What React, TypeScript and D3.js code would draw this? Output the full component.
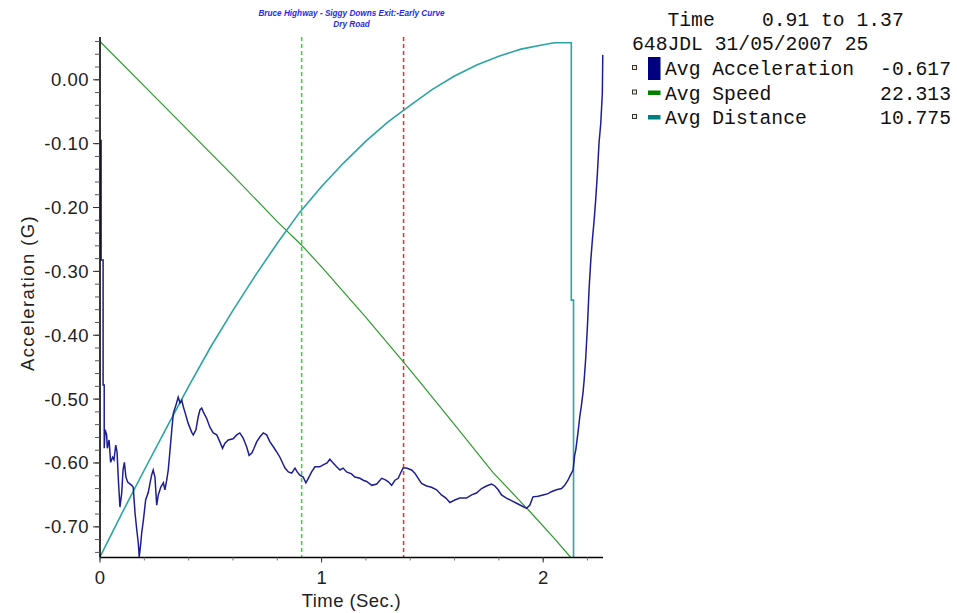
import * as React from 'react'
import * as d3 from 'd3'

// chart values
const titleLines = ['Bruce Highway - Siggy Downs Exit:-Early Curve', 'Dry Road']
const cursorTimes = [0.91, 1.37]

const accelPoints: [number, number][] = [
  [0.005, -0.094], [0.005, -0.282], [0.014, -0.282], [0.014, -0.478], [0.019, -0.478], [0.019, -0.577],
  [0.023, -0.548], [0.03, -0.556], [0.033, -0.577], [0.041, -0.564], [0.048, -0.599], [0.057, -0.591],
  [0.063, -0.595], [0.071, -0.572], [0.077, -0.583], [0.083, -0.627], [0.09, -0.669], [0.098, -0.647],
  [0.104, -0.611], [0.11, -0.599], [0.117, -0.622], [0.125, -0.63], [0.143, -0.635], [0.15, -0.638],
  [0.158, -0.678], [0.166, -0.705], [0.173, -0.726], [0.177, -0.747], [0.184, -0.726], [0.188, -0.71],
  [0.196, -0.689], [0.206, -0.658], [0.218, -0.646], [0.226, -0.631], [0.233, -0.619], [0.24, -0.611],
  [0.248, -0.622], [0.256, -0.666], [0.263, -0.65], [0.274, -0.638], [0.286, -0.631], [0.293, -0.642],
  [0.301, -0.627], [0.308, -0.611], [0.316, -0.58], [0.325, -0.544], [0.331, -0.522], [0.343, -0.509],
  [0.353, -0.497], [0.361, -0.506], [0.369, -0.502], [0.376, -0.512], [0.383, -0.52], [0.398, -0.538],
  [0.414, -0.552], [0.421, -0.556], [0.433, -0.548], [0.443, -0.528], [0.451, -0.517], [0.459, -0.514],
  [0.466, -0.52], [0.481, -0.53], [0.496, -0.544], [0.511, -0.553], [0.527, -0.556], [0.541, -0.567],
  [0.553, -0.577], [0.564, -0.569], [0.579, -0.564], [0.601, -0.562], [0.617, -0.556], [0.631, -0.553],
  [0.646, -0.561], [0.662, -0.575], [0.673, -0.588], [0.686, -0.584], [0.695, -0.577], [0.707, -0.567],
  [0.722, -0.559], [0.737, -0.553], [0.752, -0.556], [0.767, -0.567], [0.783, -0.575], [0.798, -0.583],
  [0.812, -0.591], [0.824, -0.6], [0.835, -0.608], [0.85, -0.614], [0.865, -0.616], [0.88, -0.608],
  [0.89, -0.614], [0.902, -0.619], [0.917, -0.622], [0.929, -0.631], [0.94, -0.624], [0.955, -0.614],
  [0.97, -0.606], [0.992, -0.606], [1.007, -0.603], [1.025, -0.6], [1.037, -0.594], [1.052, -0.6],
  [1.068, -0.606], [1.083, -0.611], [1.097, -0.608], [1.113, -0.614], [1.135, -0.617], [1.15, -0.622],
  [1.173, -0.624], [1.188, -0.627], [1.203, -0.629], [1.227, -0.635], [1.249, -0.633], [1.271, -0.624],
  [1.286, -0.626], [1.3, -0.629], [1.316, -0.635], [1.331, -0.627], [1.346, -0.624], [1.356, -0.616],
  [1.368, -0.608], [1.383, -0.608], [1.406, -0.611], [1.421, -0.616], [1.436, -0.624], [1.451, -0.632],
  [1.474, -0.636], [1.496, -0.638], [1.519, -0.642], [1.541, -0.65], [1.561, -0.655], [1.579, -0.662],
  [1.601, -0.658], [1.624, -0.655], [1.654, -0.655], [1.677, -0.65], [1.699, -0.647], [1.722, -0.64],
  [1.744, -0.636], [1.767, -0.633], [1.782, -0.636], [1.797, -0.642], [1.812, -0.65], [1.834, -0.655],
  [1.857, -0.659], [1.88, -0.663], [1.902, -0.667], [1.925, -0.671], [1.94, -0.666], [1.954, -0.653],
  [1.977, -0.652], [2.0, -0.65], [2.022, -0.648], [2.037, -0.645], [2.06, -0.642], [2.083, -0.64],
  [2.097, -0.635], [2.112, -0.627], [2.123, -0.619], [2.135, -0.611], [2.142, -0.588], [2.147, -0.58],
  [2.157, -0.553], [2.165, -0.528], [2.173, -0.509], [2.18, -0.489], [2.185, -0.47], [2.192, -0.436],
  [2.2, -0.384], [2.207, -0.329], [2.215, -0.282], [2.222, -0.251], [2.23, -0.22], [2.237, -0.188],
  [2.245, -0.145], [2.252, -0.099], [2.26, -0.068], [2.267, -0.021], [2.269, 0.039],
]

const speedPoints: [number, number][] = [
  [0, 0.06], [0.2, -0.01], [0.4, -0.08], [0.6, -0.15], [0.8, -0.222], [0.91, -0.259], [1.0, -0.293],
  [1.2, -0.372], [1.37, -0.442], [1.436, -0.47], [1.6, -0.54], [1.774, -0.615], [1.94, -0.676],
  [2.05, -0.718], [2.125, -0.748],
]

const distancePoints: [number, number][] = [
  [0, -0.747], [0.1, -0.678], [0.2, -0.611], [0.3, -0.545], [0.4, -0.48], [0.5, -0.418], [0.6, -0.361],
  [0.7, -0.307], [0.8, -0.256], [0.9, -0.208], [1.0, -0.167], [1.1, -0.13], [1.2, -0.096], [1.3, -0.066],
  [1.4, -0.04], [1.5, -0.015], [1.6, 0.006], [1.7, 0.023], [1.8, 0.037], [1.9, 0.048], [2.0, 0.055],
  [2.05, 0.058], [2.127, 0.058], [2.127, -0.345], [2.137, -0.345], [2.137, -0.748],
]

const legendHeader = ['   Time    0.91 to 1.37', '648JDL 31/05/2007 25']
const legendLabels = ['Avg Acceleration', 'Avg Speed', 'Avg Distance']
const legendValues = ['-0.617', '22.313', '10.775']
const legendColors = ['#000080', '#008000', '#008080']
const xTickValues = [0, 1, 2]

const W = 957
const H = 613
const fmt = d3.formatLocale({ decimal: '.', thousands: ',', grouping: [3], currency: ['', ''], minus: '-' }).format('.2f')

export default function App() {
  const x = d3.scaleLinear().domain([0, 2.27]).range([100, 603])
  const y = d3.scaleLinear().domain([-0.748, 0.067]).range([557.5, 37])
  const line = d3
    .line<[number, number]>()
    .x((d) => x(d[0]))
    .y((d) => y(d[1]))

  const yMajor = y.ticks(8)
  const yMinor = d3
    .range(-37, 4)
    .map((i) => i * 0.02)
    .filter((v) => v >= -0.748 && v <= 0.067)
  const xMinor = d3.range(0, 12).map((i) => i * 0.2)

  const [x0, x1] = x.range()
  const [y0, y1] = y.range()
  const sans = 'Arial, "Liberation Sans", sans-serif'
  const mono = '"Courier New", "Liberation Mono", monospace'

  return (
    <svg width={W} height={H} style={{ position: 'absolute', left: 0, top: 0, background: '#fff' }}>
      {/* title */}
      {titleLines.map((t, i) => (
        <text
          key={t}
          x={(x0 + x1) / 2}
          y={16 + i * 11}
          textAnchor="middle"
          fontFamily={sans}
          fontSize={8.2}
          fontWeight="bold"
          fontStyle="italic"
          fill="#2a2ae6"
        >
          {t}
        </text>
      ))}

      {/* cursors */}
      {cursorTimes.map((t, i) => (
        <line
          key={t}
          x1={x(t)}
          x2={x(t)}
          y1={y1}
          y2={y0}
          stroke={i === 0 ? '#22e022' : '#ff2424'}
          strokeWidth={1.5}
          strokeDasharray="4,3"
        />
      ))}

      {/* series */}
      <path d={line(speedPoints) || ''} fill="none" stroke="#2e9a2e" strokeWidth={1.2} />
      <path d={line(distancePoints) || ''} fill="none" stroke="#2aa4a4" strokeWidth={1.6} />
      <path d={line(accelPoints) || ''} fill="none" stroke="#1e1e92" strokeWidth={1.5} />

      {/* y axis */}
      <line x1={x0} x2={x0} y1={y1} y2={y0} stroke="#000" strokeWidth={1.6} />
      {yMinor.map((v) => (
        <line key={'ym' + v} x1={x0 - 5} x2={x0} y1={y(v)} y2={y(v)} stroke="#555" strokeWidth={1} />
      ))}
      {yMajor.map((v) => (
        <g key={'y' + v}>
          <line x1={x0 - 7} x2={x0} y1={y(v)} y2={y(v)} stroke="#333" strokeWidth={1} />
          <text
            x={x0 - 11}
            y={y(v)}
            dy="0.35em"
            textAnchor="end"
            fontFamily={sans}
            fontSize={18.5}
            letterSpacing={0.5}
            fill="#222"
          >
            {fmt(Math.abs(v) < 1e-9 ? 0 : v)}
          </text>
        </g>
      ))}
      <text
        transform="translate(28,293) rotate(-90)"
        textAnchor="middle"
        dy="0.35em"
        fontFamily={sans}
        fontSize={18.5}
        letterSpacing={1.4}
        fill="#222"
      >
        Acceleration (G)
      </text>

      {/* x axis */}
      <line x1={x0} x2={x1} y1={y0} y2={y0} stroke="#000" strokeWidth={1.6} />
      {xMinor
        .filter((t) => t <= 2.27)
        .map((t) => (
          <line key={'xm' + t} x1={x(t)} x2={x(t)} y1={y0} y2={y0 + 3} stroke="#777" strokeWidth={1} />
        ))}
      {xTickValues.map((t) => (
        <g key={'x' + t}>
          <line x1={x(t)} x2={x(t)} y1={y0} y2={y0 + 5} stroke="#333" strokeWidth={1} />
          <text x={x(t)} y={584} textAnchor="middle" fontFamily={sans} fontSize={18.5} fill="#222">
            {t}
          </text>
        </g>
      ))}
      <text x={(x0 + x1) / 2} y={607} textAnchor="middle" fontFamily={sans} fontSize={18.5} letterSpacing={0.4} fill="#222">
        Time (Sec.)
      </text>

      {/* legend */}
      {legendHeader.map((t, i) => (
        <text
          key={t}
          x={632}
          y={26 + i * 24}
          fontFamily={mono}
          fontSize={19.7}
          fill="#111"
          style={{ whiteSpace: 'pre' }}
        >
          {t}
        </text>
      ))}
      {legendLabels.map((label, i) => {
        const cy = 68 + i * 24.5
        return (
          <g key={label}>
            <rect x={632.5} y={cy - 2.5} width={4} height={4} fill="#f4e8c8" stroke="#333" strokeWidth={1} />
            {i === 0 ? (
              <rect x={648} y={57} width={12.5} height={23} fill={legendColors[i]} />
            ) : (
              <rect x={648} y={cy - 2} width={12.5} height={4.5} fill={legendColors[i]} />
            )}
            <text x={665} y={cy + 7} fontFamily={mono} fontSize={19.7} fill="#111">
              {label}
            </text>
            <text x={951} y={cy + 7} textAnchor="end" fontFamily={mono} fontSize={19.7} fill="#111">
              {legendValues[i]}
            </text>
          </g>
        )
      })}
    </svg>
  )
}
